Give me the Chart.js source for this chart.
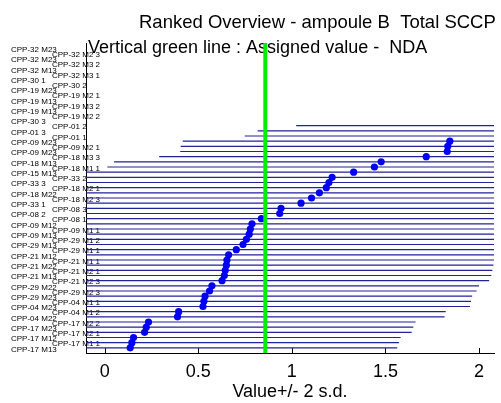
<!DOCTYPE html>
<html><head><meta charset="utf-8">
<script src="https://cdn.jsdelivr.net/npm/chart.js@4.4.1/dist/chart.umd.min.js"></script>
<style>html,body{margin:0;padding:0;background:#fff;}canvas{display:block;}</style>
</head><body>
<canvas id="c" width="501" height="403"></canvas>
<script>
// Rows ranked bottom (row 1) to top (row 59)
const rowLabels = [
  'CPP-17 M13','CPP-17 M1 1','CPP-17 M12','CPP-17 M2 1','CPP-17 M23','CPP-17 M2 2',
  'CPP-04 M22','CPP-04 M1 2','CPP-04 M23','CPP-04 M1 1','CPP-29 M23','CPP-29 M2 3',
  'CPP-29 M22','CPP-21 M2 3','CPP-21 M13','CPP-21 M2 1','CPP-21 M22','CPP-21 M1 1',
  'CPP-21 M12','CPP-29 M1 1','CPP-29 M13','CPP-29 M1 2','CPP-09 M13','CPP-09 M1 1',
  'CPP-09 M12','CPP-08 1','CPP-08 2','CPP-08 3','CPP-33 1','CPP-18 M2 3',
  'CPP-18 M22','CPP-18 M2 1','CPP-33 3','CPP-33 2','CPP-15 M13','CPP-18 M1 1',
  'CPP-18 M13','CPP-18 M3 3','CPP-09 M23','CPP-09 M2 1','CPP-09 M23','CPP-01 1',
  'CPP-01 3','CPP-01 2','CPP-30 3','CPP-19 M2 2','CPP-19 M13','CPP-19 M3 2',
  'CPP-19 M13','CPP-19 M2 1','CPP-19 M23','CPP-30 2','CPP-30 1','CPP-32 M3 1',
  'CPP-32 M13','CPP-32 M3 2','CPP-32 M23','CPP-32 M2 3','CPP-32 M23'
];
const values = [
  0.136, 0.145, 0.154, 0.213, 0.222, 0.234, 0.389, 0.395, 0.525, 0.530,
  0.536, 0.560, 0.573, 0.627, 0.639, 0.644, 0.650, 0.653, 0.662, 0.703,
  0.739, 0.757, 0.772, 0.778, 0.787, 0.837, 0.935, 0.942, 1.049, 1.105,
  1.147, 1.184, 1.198, 1.215, 1.330, 1.441, 1.477, 1.718, 1.830, 1.833,
  1.844, 2.175, 2.244, 2.450, 3.60, 3.75, 3.90, 4.10, 4.30, 4.60,
  4.90, 5.20, 5.60, 6.00, 6.50, 7.10, 7.80, 8.60, 9.50
];
const twoSD = 1.427;
const assignedValue = 0.858;
const xTicks = [0, 0.5, 1, 1.5, 2];
const titleText = 'Ranked Overview - ampoule B  Total SCCP';
const subtitleText = 'Vertical green line : Assigned value -  NDA';
const xAxisTitle = 'Value+/- 2 s.d.';

const FAMILY = '"Liberation Sans", Arial, Helvetica, sans-serif';

const barData = [];
values.forEach((v, i) => {
  barData.push({x: v - twoSD, y: i + 1}, {x: v + twoSD, y: i + 1}, {x: null, y: null});
});
const dotData = values.map((v, i) => ({x: v, y: i + 1}));
const greenData = [{x: assignedValue, y: 0}, {x: assignedValue, y: rowLabels.length + 1}];

const textPlugin = {
  id: 'texts',
  beforeDatasetsDraw(chart) {
    const {ctx, chartArea, scales: {x, y}} = chart;
    ctx.save();
    ctx.fillStyle = '#000';
    ctx.textAlign = 'left';
    ctx.textBaseline = 'alphabetic';
    ctx.font = '18.5px ' + FAMILY;
    ctx.fillText(titleText, 139, 28);
    ctx.font = '18px ' + FAMILY;
    ctx.fillText(subtitleText, chartArea.left + 2, 53);
    ctx.font = '8px ' + FAMILY;
    ctx.fillStyle = '#000';
    ctx.textBaseline = 'middle';
    rowLabels.forEach((lab, i) => {
      const py = y.getPixelForValue(i + 1) + 1.5;
      const px = (i % 2 === 0) ? 11 : 52;
      ctx.fillText(lab, px, py);
    });
    ctx.strokeStyle = '#000';
    ctx.lineWidth = 1;
    xTicks.forEach(v => {
      const px = Math.round(x.getPixelForValue(v)) + 0.5;
      ctx.beginPath();
      ctx.moveTo(px, chartArea.bottom);
      ctx.lineTo(px, chartArea.bottom - 5);
      ctx.stroke();
    });
    ctx.restore();
  }
};

new Chart(document.getElementById('c'), {
  type: 'scatter',
  data: {
    datasets: [
      {data: greenData, showLine: true, borderColor: '#00ee00', borderWidth: 4,
       pointRadius: 0, order: 0, clip: 0},
      {data: dotData, pointRadius: 3.6, pointBackgroundColor: '#0000f2',
       pointBorderWidth: 0, borderWidth: 0, order: 1, clip: 0},
      {data: barData, showLine: true, borderColor: '#22229a', borderWidth: 1.2,
       pointRadius: 0, spanGaps: false, order: 2, clip: 0}
    ]
  },
  options: {
    responsive: false,
    animation: false,
    events: [],
    layout: {padding: {left: 86, right: 7, top: 43, bottom: 0}},
    plugins: {legend: {display: false}, tooltip: {enabled: false}, title: {display: false}},
    scales: {
      x: {
        type: 'linear', min: -0.1, max: 2.08,
        afterBuildTicks: s => { s.ticks = xTicks.map(v => ({value: v})); },
        afterFit: s => { s.height = 50; },
        ticks: {font: {size: 18, family: FAMILY}, color: '#000', padding: 8,
                autoSkip: false, maxRotation: 0, callback: v => String(v)},
        grid: {display: false, drawTicks: false},
        border: {display: true, color: '#000', width: 1},
        title: {display: true, text: xAxisTitle, color: '#000',
                font: {size: 18, family: FAMILY}, padding: {top: 0, bottom: 0}}
      },
      y: {
        type: 'linear', min: 0, max: 60,
        afterFit: s => { s.width = 0; },
        ticks: {display: false},
        grid: {display: false, drawTicks: false},
        border: {display: true, color: '#000', width: 1}
      }
    }
  },
  plugins: [textPlugin]
});
</script>
</body></html>
